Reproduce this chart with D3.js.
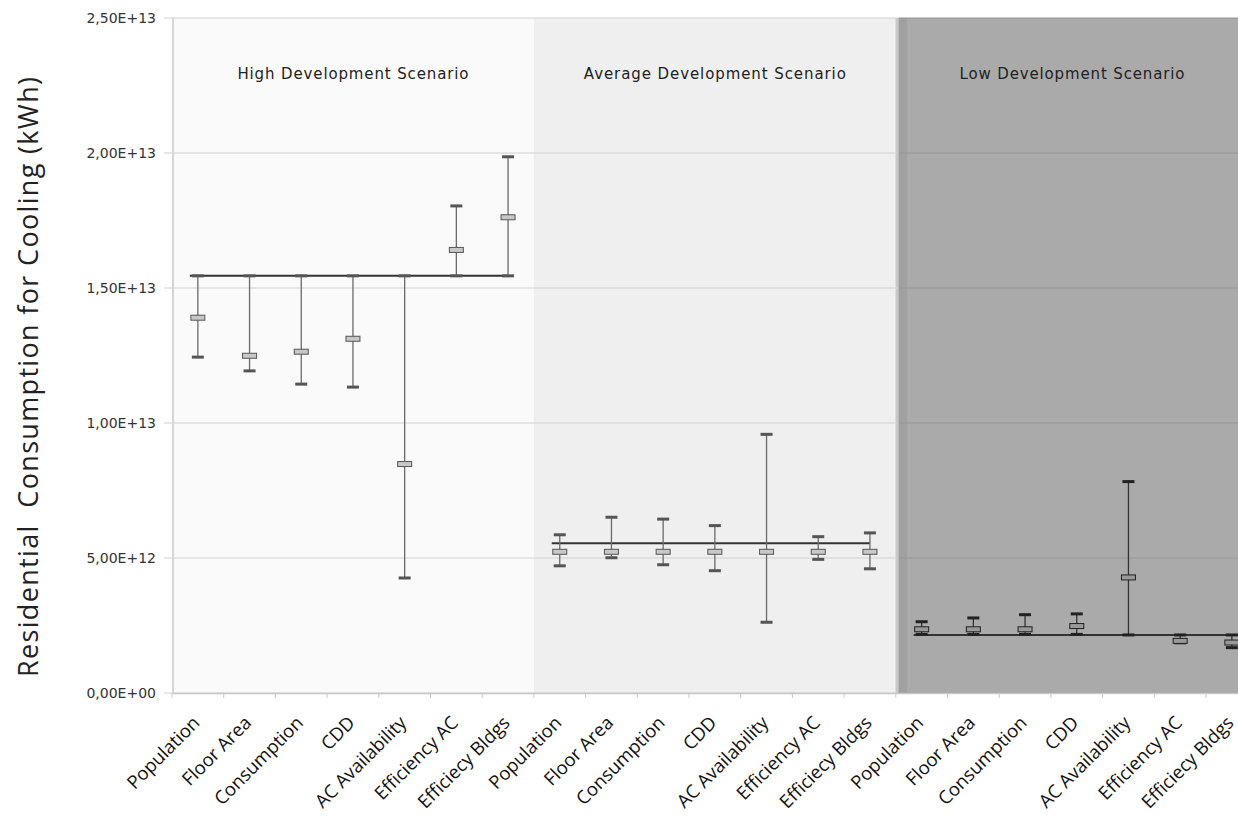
<!DOCTYPE html>
<html>
<head>
<meta charset="utf-8">
<script src="https://cdn.jsdelivr.net/npm/d3@7"></script>
<style>
  body { margin: 0; background: #fff; }
  svg { display: block; }
</style>
</head>
<body>
<svg id="chart"></svg>
<script>
// values in units of 1E12 kWh
var categories = ["Population", "Floor Area", "Consumption", "CDD", "AC Availability", "Efficiency AC", "Efficiecy Bldgs"]
var scenarios = ["High Development Scenario", "Average Development Scenario", "Low Development Scenario"]
var baseline = [15.45, 5.55, 2.15]

var highTop = [15.45, 15.45, 15.45, 15.45, 15.45, 18.04, 19.86]
var highMid = [13.9, 12.49, 12.64, 13.12, 8.48, 16.41, 17.62]
var highBot = [12.44, 11.93, 11.44, 11.33, 4.26, 15.45, 15.45]

var avgTop = [5.86, 6.51, 6.44, 6.2, 9.58, 5.79, 5.93]
var avgMid = [5.23, 5.23, 5.23, 5.23, 5.23, 5.23, 5.23]
var avgBot = [4.71, 5.01, 4.75, 4.53, 2.62, 4.95, 4.6]

var lowTop = [2.64, 2.78, 2.9, 2.93, 7.83, 2.15, 2.15]
var lowMid = [2.36, 2.36, 2.36, 2.48, 4.28, 1.93, 1.87]
var lowBot = [2.17, 2.17, 2.17, 2.17, 2.15, 1.86, 1.68]

var yTicks = [0, 5, 10, 15, 20, 25]
var yTickLabels = ["0,00E+00", "5,00E+12", "1,00E+13", "1,50E+13", "2,00E+13", "2,50E+13"]

var width = 1238, height = 822
var plotLeft = 172, plotTop = 18, plotBottom = 693
var bandW = 51.7

var svg = d3.select("#chart")
    .attr("width", width)
    .attr("height", height)

var series = [
    {top: highTop, mid: highMid, bot: highBot},
    {top: avgTop, mid: avgMid, bot: avgBot},
    {top: lowTop, mid: lowMid, bot: lowBot}
]

var rows = []
series.forEach((s, si) => {
    categories.forEach((c, ci) => {
        rows.push({key: si + "-" + ci, cat: c, scen: si, top: s.top[ci], mid: s.mid[ci], bot: s.bot[ci]})
    })
})

var x = d3.scaleBand()
    .domain(rows.map(d => d.key))
    .range([plotLeft, plotLeft + bandW * rows.length])
    .padding(0)

var y = d3.scaleLinear()
    .domain([0, 25])
    .range([plotBottom, plotTop])

var cx = d => x(d.key) + x.bandwidth() / 2

// section backgrounds
var bgColors = ["#fafafa", "#efefef", "#aaaaaa"]
scenarios.forEach((s, si) => {
    var first = x(si + "-0"), last = x(si + "-6") + x.bandwidth()
    svg.append("rect")
        .attr("x", first)
        .attr("y", plotTop)
        .attr("width", last - first)
        .attr("height", plotBottom - plotTop)
        .attr("fill", bgColors[si])
})
// thin darker strip at the low section start
var lowStart = x("2-0")
svg.append("rect")
    .attr("x", lowStart).attr("y", plotTop)
    .attr("width", 3).attr("height", plotBottom - plotTop)
    .attr("fill", "#c8c8c8")
svg.append("rect")
    .attr("x", lowStart + 3).attr("y", plotTop)
    .attr("width", 8).attr("height", plotBottom - plotTop)
    .attr("fill", "#a0a0a0")

// gridlines
yTicks.forEach(t => {
    svg.append("line")
        .attr("x1", plotLeft - 8).attr("x2", lowStart + 3)
        .attr("y1", y(t)).attr("y2", y(t))
        .attr("stroke", "#d2d2d2").attr("stroke-width", 1.2)
    svg.append("line")
        .attr("x1", lowStart + 3).attr("x2", width)
        .attr("y1", y(t)).attr("y2", y(t))
        .attr("stroke", "#969696").attr("stroke-width", 1.2)
})

// y axis line
svg.append("line")
    .attr("x1", plotLeft + 1).attr("x2", plotLeft + 1)
    .attr("y1", plotTop).attr("y2", plotBottom)
    .attr("stroke", "#d6d6d6").attr("stroke-width", 2)

// x axis ticks
svg.append("g")
    .attr("transform", `translate(0,${plotBottom})`)
    .call(d3.axisBottom(x).tickSize(0).tickFormat(""))
    .call(g => g.select(".domain").attr("stroke", "#c8c8c8").attr("stroke-width", 1.5))
svg.selectAll(".xtick")
    .data(rows.concat([null]))
    .enter()
    .append("line")
        .attr("x1", (d, i) => plotLeft + i * bandW)
        .attr("x2", (d, i) => plotLeft + i * bandW)
        .attr("y1", plotBottom).attr("y2", plotBottom + 5)
        .attr("stroke", "#c8c8c8")

// y tick labels
svg.selectAll(".ylab")
    .data(yTicks)
    .enter()
    .append("text")
        .attr("x", 156)
        .attr("y", d => y(d) + 5)
        .attr("text-anchor", "end")
        .attr("font-family", "DejaVu Sans")
        .attr("font-size", "14px")
        .attr("fill", "#333")
        .text((d, i) => yTickLabels[i])

// y axis title
svg.append("text")
    .attr("transform", "translate(38,377) rotate(-90)")
    .attr("text-anchor", "middle")
    .attr("font-family", "Open Sans")
    .attr("font-size", "27px")
    .attr("fill", "#222")
    .attr("textLength", 600)
    .attr("lengthAdjust", "spacing")
    .style("white-space", "pre")
    .text("Residential  Consumption for Cooling (kWh)")

// scenario titles
var titleW = [231, 262, 225]
scenarios.forEach((s, si) => {
    var first = x(si + "-0"), last = x(si + "-6") + x.bandwidth()
    var mid = si == 2 ? 1072 : (first + last) / 2
    svg.append("text")
        .attr("x", mid)
        .attr("y", 79)
        .attr("text-anchor", "middle")
        .attr("font-family", "DejaVu Sans")
        .attr("font-size", "15px")
        .attr("fill", "#222")
        .attr("textLength", titleW[si])
        .attr("lengthAdjust", "spacing")
        .text(s)
})

// baseline per scenario
baseline.forEach((b, si) => {
    var c0 = x(si + "-0") + x.bandwidth() / 2, c1 = x(si + "-6") + x.bandwidth() / 2
    svg.append("line")
        .attr("x1", c0 - 8).attr("x2", si == 2 ? width : c1)
        .attr("y1", y(b)).attr("y2", y(b))
        .attr("stroke", "#333").attr("stroke-width", 2)
})

// error bars
var bars = svg.selectAll(".bar")
    .data(rows)
    .enter()
    .append("g")

bars.append("line")
    .attr("x1", cx).attr("x2", cx)
    .attr("y1", d => y(d.top)).attr("y2", d => y(d.bot))
    .attr("stroke", d => d.scen == 2 ? "#333" : "#6a6a6a")
    .attr("stroke-width", 1.3)

bars.append("rect")
    .attr("x", d => cx(d) - 6)
    .attr("y", d => y(d.top) - 1.5)
    .attr("width", 12).attr("height", 3)
    .attr("fill", d => d.scen == 2 ? "#222" : "#555")

bars.append("rect")
    .attr("x", d => cx(d) - 6)
    .attr("y", d => y(d.bot) - 1.5)
    .attr("width", 12).attr("height", 3)
    .attr("fill", d => d.scen == 2 ? "#222" : "#555")

bars.append("rect")
    .attr("x", d => cx(d) - 7)
    .attr("y", d => y(d.mid) - 2.5)
    .attr("width", 14).attr("height", 5)
    .attr("fill", d => d.scen == 2 ? "#999" : "#c8c8c8")
    .attr("stroke", d => d.scen == 2 ? "#222" : "#555")
    .attr("stroke-width", 1)

// x labels
svg.selectAll(".xlab")
    .data(rows)
    .enter()
    .append("text")
        .attr("transform", d => `translate(${cx(d) + 3},${plotBottom + 31}) rotate(-45)`)
        .attr("text-anchor", "end")
        .attr("font-family", "Open Sans")
        .attr("font-size", "18.5px")
        .attr("fill", "#111")
        .text(d => d.cat)
</script>
</body>
</html>
